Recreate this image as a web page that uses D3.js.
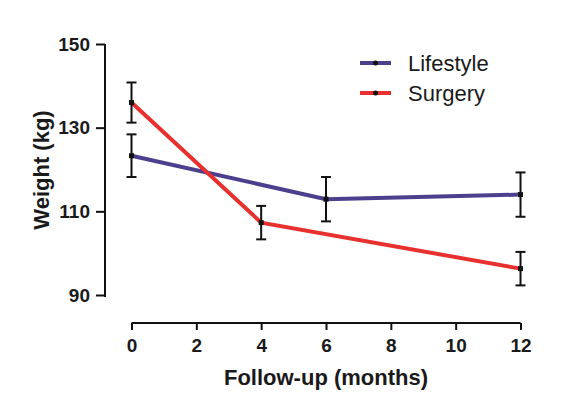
<!DOCTYPE html>
<html>
<head>
<meta charset="utf-8">
<script src="https://cdn.jsdelivr.net/npm/d3@7"></script>
<style>
  body { margin: 0; background: #fff; }
  text { font-family: Arial, "Liberation Sans", sans-serif; }
</style>
</head>
<body>
<div id="chart"></div>
<script>
var months = [0, 4, 6, 12]
var lifestyleMonths = [0, 6, 12]
var lifestyleMean = [123.3, 112.9, 114.0]
var lifestyleErr = [5.1, 5.3, 5.3]
var surgeryMonths = [0, 4, 12]
var surgeryMean = [136.0, 107.3, 96.3]
var surgeryErr = [4.8, 4.0, 4.0]
var xTicks = [0, 2, 4, 6, 8, 10, 12]
var yTicks = [90, 110, 130, 150]
var seriesNames = ["Lifestyle", "Surgery"]
var seriesColors = ["#4b3f8e", "#e8302e"]

var svg = d3.select("#chart").append("svg")
            .attr("width", 570)
            .attr("height", 403);

var x = d3.scaleLinear().domain([0, 12]).range([131.5, 520.5]);
var y = d3.scaleLinear().domain([90, 150]).range([295, 44]);

// axes
var yAxis = svg.append("g")
               .attr("transform", "translate(105,0)")
               .call(d3.axisLeft(y).tickValues(yTicks).tickSize(9).tickSizeOuter(0));
yAxis.select(".domain").attr("d", "M0," + y(150) + "V" + (y(90) + 2));
yAxis.selectAll("line, path").attr("stroke", "#111").attr("stroke-width", 2);
yAxis.selectAll("text").attr("font-size", 19).attr("font-weight", "bold")
     .attr("fill", "#1a1a1a").attr("x", -15);

var xAxis = svg.append("g")
               .attr("transform", "translate(0,323)")
               .call(d3.axisBottom(x).tickValues(xTicks).tickSize(7).tickSizeOuter(0));
xAxis.select(".domain").attr("d", "M" + x(0) + ",0H" + x(12));
xAxis.selectAll("line, path").attr("stroke", "#111").attr("stroke-width", 2);
xAxis.selectAll("text").attr("font-size", 19).attr("font-weight", "bold")
     .attr("fill", "#1a1a1a").attr("y", 16);

svg.append("text")
   .attr("x", 326).attr("y", 385)
   .attr("text-anchor", "middle")
   .attr("font-size", 22).attr("font-weight", "bold").attr("fill", "#1a1a1a")
   .text("Follow-up (months)");

svg.append("text")
   .attr("transform", "translate(49,170) rotate(-90)")
   .attr("text-anchor", "middle")
   .attr("font-size", 22).attr("font-weight", "bold").attr("fill", "#1a1a1a")
   .text("Weight (kg)");

var series = [
  {name: seriesNames[0], color: seriesColors[0], months: lifestyleMonths, mean: lifestyleMean, err: lifestyleErr},
  {name: seriesNames[1], color: seriesColors[1], months: surgeryMonths, mean: surgeryMean, err: surgeryErr}
];

var line = d3.line()
             .x(function(d) { return x(d.m); })
             .y(function(d) { return y(d.v); });

series.forEach(function(s) {
  var pts = s.months.map(function(m, i) { return {m: m, v: s.mean[i], e: s.err[i]}; });

  svg.append("path")
     .datum(pts)
     .attr("d", line)
     .attr("fill", "none")
     .attr("stroke", s.color)
     .attr("stroke-width", 4);

  var eb = svg.append("g").selectAll("g").data(pts).enter().append("g");
  eb.append("line")
    .attr("x1", function(d) { return x(d.m); })
    .attr("x2", function(d) { return x(d.m); })
    .attr("y1", function(d) { return y(d.v + d.e); })
    .attr("y2", function(d) { return y(d.v - d.e); })
    .attr("stroke", "#111").attr("stroke-width", 2);
  eb.append("line")
    .attr("x1", function(d) { return x(d.m) - 5; })
    .attr("x2", function(d) { return x(d.m) + 5; })
    .attr("y1", function(d) { return y(d.v + d.e); })
    .attr("y2", function(d) { return y(d.v + d.e); })
    .attr("stroke", "#111").attr("stroke-width", 2);
  eb.append("line")
    .attr("x1", function(d) { return x(d.m) - 5; })
    .attr("x2", function(d) { return x(d.m) + 5; })
    .attr("y1", function(d) { return y(d.v - d.e); })
    .attr("y2", function(d) { return y(d.v - d.e); })
    .attr("stroke", "#111").attr("stroke-width", 2);
  eb.append("rect")
    .attr("x", function(d) { return x(d.m) - 2.5; })
    .attr("y", function(d) { return y(d.v) - 2.5; })
    .attr("width", 5).attr("height", 5)
    .attr("fill", "#111");
});

// legend
var legend = svg.append("g").selectAll("g").data(series).enter().append("g")
                .attr("transform", function(d, i) { return "translate(360," + (63 + i * 30) + ")"; });
legend.append("line")
      .attr("x1", 0).attr("x2", 31)
      .attr("stroke", function(d) { return d.color; })
      .attr("stroke-width", 4);
legend.append("circle")
      .attr("cx", 15.5).attr("r", 2.5).attr("fill", "#111");
legend.append("text")
      .attr("x", 48).attr("y", 7.5)
      .attr("font-size", 22).attr("fill", "#1a1a1a")
      .text(function(d) { return d.name; });
</script>
</body>
</html>
